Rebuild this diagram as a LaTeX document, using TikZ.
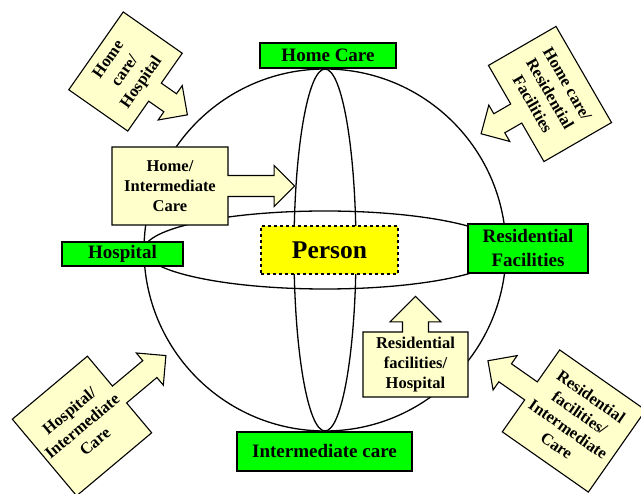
\documentclass[tikz,border=0pt]{standalone}
\usepackage{fontspec}
\setmainfont{Liberation Serif}
\usepackage{tikz}
\usetikzlibrary{shapes.arrows}
\definecolor{settinggreen}{HTML}{00FF00}
\definecolor{personyellow}{HTML}{FFFF00}
\definecolor{transcream}{HTML}{FFFFCC}

\begin{document}
\begin{tikzpicture}[x=1pt,y=-1pt,
  setting/.style={draw=black,line width=1.2pt,fill=settinggreen,inner sep=0pt,align=center,font=\bfseries\fontsize{19}{24}\selectfont},
  transition/.style={arrow box,draw=black,line width=1.1pt,fill=transcream,inner sep=0pt,align=center,
    font=\bfseries\fontsize{16.5}{20}\selectfont,
    arrow box shaft width=22pt,arrow box head extend=10pt,arrow box tip angle=90,
    arrow box north arrow=-1pt,arrow box south arrow=-1pt,arrow box east arrow=-1pt,arrow box west arrow=-1pt}]
  \useasboundingbox (0,0) rectangle (641,494);
  % Sphere with its two rings
  \coordinate (centre) at (325,250);
  \draw[line width=1.3pt] (centre) circle[radius=181];
  \draw[line width=1.3pt] (centre) ellipse[x radius=31,y radius=181];
  \draw[line width=1.3pt] (centre) ellipse[x radius=181,y radius=39];
  % Person in the middle
  \node[draw=black,dashed,line width=1.5pt,fill=personyellow,minimum width=137,minimum height=48,inner sep=0pt,font=\bfseries\fontsize{25.5}{30}\selectfont] (person) at (329.5,250) {Person};
  % Care settings (green labels)
  \node[setting,minimum width=136,minimum height=25] (homecare) at (328,55.5) {Home Care};
  \node[setting,minimum width=175,minimum height=39] (intercare) at (324.5,451.5) {Intermediate care};
  \node[setting,minimum width=121,minimum height=24] (hospital) at (122.5,254) {Hospital};
  \node[setting,minimum width=120,minimum height=49] (residential) at (528,248.5) {Residential\\Facilities};
  % Transitions between settings
  \node[transition,minimum width=116,minimum height=78,arrow box east arrow=66pt,arrow box shaft width=21pt] (homeinter) at (170,186) {Home/\\Intermediate\\Care};
  \node[transition,minimum width=105,minimum height=65,arrow box north arrow=35pt,arrow box shaft width=26pt,arrow box head extend=12.5pt] (reshosp) at (415.5,364.5) {Residential\\facilities/\\Hospital};
  \node[transition,rotate=55,minimum width=95,minimum height=72,arrow box south arrow=39pt] (homehosp) at (125.5,71.5) {Home\\care/\\Hospital};
  \node[transition,rotate=-60,minimum width=111,minimum height=78,arrow box south arrow=40pt] (homeres) at (550,94) {Home care/\\Residential\\Facilities};
  \node[transition,rotate=40,minimum width=98,minimum height=100,arrow box east arrow=60pt] (hospinter) at (82,426) {Hospital/\\Intermediate\\Care};
  \node[transition,rotate=-35,minimum width=105,minimum height=100,arrow box west arrow=52pt] (resinter) at (574,421) {Residential\\facilities/\\Intermediate\\Care};
\end{tikzpicture}
\end{document}
